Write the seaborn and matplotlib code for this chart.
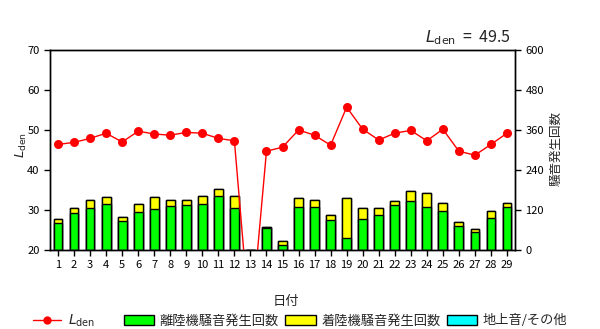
import numpy as np
import pandas as pd
import matplotlib
matplotlib.use("Agg")
import matplotlib.pyplot as plt
from matplotlib.lines import Line2D
from matplotlib.patches import Patch
import seaborn as sns

days = list(range(1, 30))
lden = [46.4, 46.9, 47.9, 49.2, 47.0, 49.7, 49.0, 48.7, 49.4, 49.2, 47.9, 47.3, 0.0,
        44.7, 45.7, 50.0, 48.7, 46.2, 55.7, 50.2, 47.5, 49.2, 49.9, 47.3, 50.2, 44.7,
        43.7, 46.4, 49.2]
takeoff = [80, 110, 125, 137, 86, 113, 123, 131, 134, 137, 161, 125, 0, 66, 14, 128,
           128, 89, 35, 92, 104, 134, 146, 128, 116, 71, 53, 95, 128]
landing = [12, 16, 25, 22, 13, 24, 36, 19, 16, 25, 22, 37, 0, 2, 13, 28, 21, 15, 120,
           33, 21, 12, 30, 42, 24, 12, 9, 21, 12]
ground = [0] * 29
lden_month = 49.5

left_ticks = [20, 30, 40, 50, 60, 70]
right_ticks = [0, 120, 240, 360, 480, 600]

sns.set_style("ticks")
plt.rcParams["font.family"] = ["Noto Sans CJK JP", "DejaVu Sans"]
plt.rcParams["mathtext.fontset"] = "dejavusans"

df = pd.DataFrame({
    "day": [str(d) for d in days],
    "takeoff": takeoff,
    "tl": np.array(takeoff) + np.array(landing),
    "all": np.array(takeoff) + np.array(landing) + np.array(ground),
    "lden": lden,
})

fig = plt.figure(figsize=(6, 3.29), dpi=100)
ax = fig.add_axes([50 / 600, 79 / 329, 465 / 600, 200 / 329])
ax2 = ax.twinx()

GREEN, YELLOW, CYAN, RED = "#00FF00", "#FFFF00", "#00FFFF", "#FF0000"

for col, c in [("all", CYAN), ("tl", YELLOW), ("takeoff", GREEN)]:
    sns.barplot(data=df, x="day", y=col, color=c, saturation=1, width=0.55,
                edgecolor="black", linewidth=1, ax=ax2)

pos = np.arange(len(days))
sns.lineplot(x=pos, y=lden, ax=ax, color=RED, marker="o", markersize=6.5,
             markeredgewidth=0, linewidth=1)

ax.set_zorder(2)
ax2.set_zorder(1)
ax.patch.set_visible(False)

ax.set_xlim(-0.5, 28.5)
ax.set_ylim(20, 70)
ax2.set_ylim(0, 600)
ax.set_yticks(left_ticks)
ax2.set_yticks(right_ticks)
ax.set_xticks(pos)
ax.set_xticklabels([str(d) for d in days])
ax.set_xlabel("")
ax.set_ylabel("")
ax2.set_xlabel("")
ax2.set_ylabel("")

for a in (ax, ax2):
    for s in a.spines.values():
        s.set_visible(True)
        s.set_color("black")
        s.set_linewidth(1)
    a.tick_params(direction="out", length=4, width=1, colors="black", labelsize=8)
ax.tick_params(axis="x", pad=3)

fig.text(511 / 600, 1 - 38 / 329, r"$\mathit{L}_{\mathrm{den}}$" + f"  =  {lden_month}",
         ha="right", va="center", fontsize=11.5)
fig.text(21 / 600, 1 - 145 / 329, r"$L_{\mathrm{den}}$", rotation=90,
         ha="center", va="center", fontsize=9.5)
fig.text(556 / 600, 1 - 149 / 329, "騒音発生回数", rotation=90,
         ha="center", va="center", fontsize=9)
fig.text(286 / 600, 1 - 302 / 329, "日付", ha="center", va="center", fontsize=9.5)

h_line = [Line2D([], [], color=RED, marker="o", markersize=6, markeredgewidth=0, lw=1)]
fig.legend(h_line, [r"$L_{\mathrm{den}}$"], loc="center left",
           bbox_to_anchor=(33 / 600, 8 / 329), frameon=False, fontsize=10,
           handlelength=2.0, handletextpad=0.5, borderpad=0, borderaxespad=0)
h_p = [Patch(facecolor=GREEN, edgecolor="black", lw=1),
       Patch(facecolor=YELLOW, edgecolor="black", lw=1),
       Patch(facecolor=CYAN, edgecolor="black", lw=1)]
fig.legend(h_p, ["離陸機騒音発生回数", "着陸機騒音発生回数", "地上音/その他"],
           loc="center left", bbox_to_anchor=(124 / 600, 8 / 329), ncol=3,
           frameon=False, fontsize=9.5, handlelength=2.3, handleheight=0.8,
           handletextpad=0.4, columnspacing=0.5, borderpad=0, borderaxespad=0)

fig.savefig("out.png", dpi=100)
